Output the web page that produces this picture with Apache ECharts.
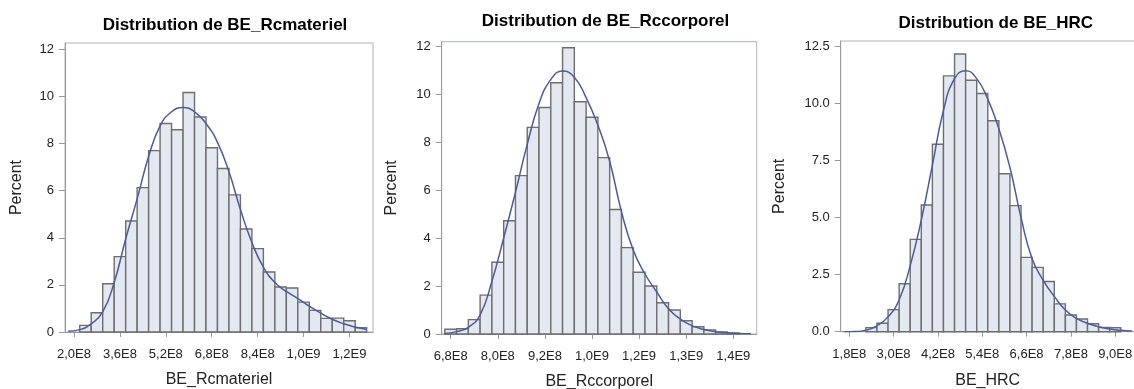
<!DOCTYPE html>
<html>
<head>
<meta charset="utf-8">
<script src="https://cdn.jsdelivr.net/npm/echarts@6/dist/echarts.min.js"></script>
<style>
html,body{margin:0;padding:0;background:#fff;}
#chart{width:1134px;height:389px;}
</style>
</head>
<body>
<div id="chart"></div>
<script>
// ---------- DATA ----------
const titles = ['Distribution de BE_Rcmateriel', 'Distribution de BE_Rccorporel', 'Distribution de BE_HRC'];
const xNames = ['BE_Rcmateriel', 'BE_Rccorporel', 'BE_HRC'];
const yName = 'Percent';

// Panel 1: BE_Rcmateriel (bin width 4E7)
const binWidth1 = 0.4e8;
const mid1 = [2.4e8, 2.8e8, 3.2e8, 3.6e8, 4.0e8, 4.4e8, 4.8e8, 5.2e8, 5.6e8, 6.0e8, 6.4e8, 6.8e8, 7.2e8, 7.6e8, 8.0e8, 8.4e8, 8.8e8, 9.2e8, 9.6e8, 10.0e8, 10.4e8, 10.8e8, 11.2e8, 11.6e8, 12.0e8];
const pct1 = [0.28, 0.82, 2.05, 3.2, 4.71, 6.13, 7.70, 8.85, 8.59, 10.17, 9.13, 7.82, 6.94, 5.82, 4.37, 3.54, 2.55, 1.91, 1.87, 1.27, 0.92, 0.58, 0.59, 0.48, 0.18];
const curveX1 = [1.8e8, 2.2e8, 2.6e8, 3.0e8, 3.4e8, 3.8e8, 4.2e8, 4.6e8, 5.0e8, 5.4e8, 5.8e8, 6.2e8, 6.6e8, 7.0e8, 7.4e8, 7.8e8, 8.2e8, 8.6e8, 9.0e8, 9.4e8, 9.8e8, 10.2e8, 10.6e8, 11.0e8, 11.4e8, 11.8e8, 12.2e8];
const curveY1 = [0.03, 0.10, 0.35, 0.85, 2.1, 3.95, 5.65, 7.45, 8.75, 9.35, 9.53, 9.35, 8.85, 8.05, 6.8, 5.2, 3.8, 2.75, 2.1, 1.72, 1.42, 1.1, 0.8, 0.54, 0.35, 0.21, 0.11];
const xTicks1 = [2.0e8, 3.6e8, 5.2e8, 6.8e8, 8.4e8, 10.0e8, 11.6e8];
const yTicks1 = [0, 2, 4, 6, 8, 10, 12];

// Panel 2: BE_Rccorporel (bin width 3E7)
const binWidth2 = 0.3e8;
const mid2 = [6.8e8, 7.1e8, 7.4e8, 7.7e8, 8.0e8, 8.3e8, 8.6e8, 8.9e8, 9.2e8, 9.5e8, 9.8e8, 10.1e8, 10.4e8, 10.7e8, 11.0e8, 11.3e8, 11.6e8, 11.9e8, 12.2e8, 12.5e8, 12.8e8, 13.1e8, 13.4e8, 13.7e8, 14.0e8];
const pct2 = [0.2, 0.22, 0.6, 1.62, 2.99, 4.72, 6.6, 8.61, 9.44, 10.47, 11.93, 9.68, 9.03, 7.35, 5.19, 3.6, 2.57, 2.0, 1.3, 1.0, 0.55, 0.3, 0.17, 0.09, 0.04];
const curveX2 = [6.65e8, 6.95e8, 7.25e8, 7.55e8, 7.85e8, 8.15e8, 8.45e8, 8.75e8, 9.05e8, 9.35e8, 9.65e8, 9.95e8, 10.25e8, 10.55e8, 10.85e8, 11.15e8, 11.45e8, 11.75e8, 12.05e8, 12.35e8, 12.65e8, 12.95e8, 13.25e8, 13.55e8, 13.85e8, 14.15e8, 14.45e8];
const curveY2 = [0.02, 0.10, 0.28, 0.80, 2.2, 4.0, 5.9, 7.9, 9.6, 10.6, 10.96, 10.7, 9.85, 8.7, 7.2, 5.1, 3.5, 2.5, 1.75, 1.05, 0.62, 0.35, 0.19, 0.09, 0.05, 0.02, 0.01];
const xTicks2 = [6.8e8, 8.0e8, 9.2e8, 10.4e8, 11.6e8, 12.8e8, 14.0e8];
const yTicks2 = [0, 2, 4, 6, 8, 10, 12];

// Panel 3: BE_HRC (bin width 3E7)
const binWidth3 = 0.3e8;
const mid3 = [2.4e8, 2.7e8, 3.0e8, 3.3e8, 3.6e8, 3.9e8, 4.2e8, 4.5e8, 4.8e8, 5.1e8, 5.4e8, 5.7e8, 6.0e8, 6.3e8, 6.6e8, 6.9e8, 7.2e8, 7.5e8, 7.8e8, 8.1e8, 8.4e8, 8.7e8, 9.0e8];
const pct3 = [0.18, 0.37, 0.97, 2.1, 4.05, 5.56, 8.22, 11.22, 12.18, 11.03, 10.45, 9.25, 6.93, 5.53, 3.26, 2.82, 2.2, 1.22, 0.73, 0.56, 0.35, 0.19, 0.17];
const curveX3 = [1.65e8, 1.95e8, 2.25e8, 2.55e8, 2.85e8, 3.15e8, 3.45e8, 3.75e8, 4.05e8, 4.35e8, 4.65e8, 4.95e8, 5.25e8, 5.55e8, 5.85e8, 6.15e8, 6.45e8, 6.75e8, 7.05e8, 7.35e8, 7.65e8, 7.95e8, 8.25e8, 8.55e8, 8.85e8, 9.15e8, 9.45e8];
const curveY3 = [0.00, 0.01, 0.07, 0.26, 0.65, 1.4, 2.9, 4.9, 7.3, 9.7, 11.1, 11.45, 11.1, 10.2, 8.9, 7.2, 5.0, 3.2, 2.25, 1.55, 0.95, 0.58, 0.37, 0.22, 0.12, 0.06, 0.03];
const xTicks3 = [1.8e8, 3.0e8, 4.2e8, 5.4e8, 6.6e8, 7.8e8, 9.0e8];
const yTicks3 = [0, 2.5, 5, 7.5, 10, 12.5];

// ---------- LAYOUT / STYLE ----------
const FONT = 'Liberation Sans, Arial, sans-serif';
const panels = [
  {grid:{left:65, top:43, width:308, height:289}, xMin:1.686e8, xMax:12.42e8, yMax:12.27,
   mids:mid1, pcts:pct1, bw:binWidth1, cx:curveX1, cy:curveY1, xt:xTicks1, yt:yTicks1, ydec:0,
   titleX:220, titleY:12, yGap:40, xGap:40},
  {grid:{left:441.7, top:41.7, width:315, height:292.3}, xMin:6.571e8, xMax:14.596e8, yMax:12.18,
   mids:mid2, pcts:pct2, bw:binWidth2, cx:curveX2, cy:curveY2, xt:xTicks2, yt:yTicks2, ydec:0,
   titleX:600.5, titleY:8, yGap:42, xGap:40},
  {grid:{left:840.7, top:41, width:294, height:290.7}, xMin:1.568e8, xMax:9.527e8, yMax:12.75,
   mids:mid3, pcts:pct3, bw:binWidth3, cx:curveX3, cy:curveY3, xt:xTicks3, yt:yTicks3, ydec:1,
   titleX:990.8, titleY:10, yGap:53, xGap:41}
];

function fmtE(v){
  return v.toExponential(1).replace('.', ',').replace('e+', 'E');
}
function makeRender(bw){
  return function(params, api){
    const x = api.value(0), v = api.value(1);
    const p0 = api.coord([x - bw/2, v]);
    const p1 = api.coord([x + bw/2, 0]);
    return {
      type:'rect',
      shape:{x:p0[0], y:p0[1], width:p1[0]-p0[0], height:p1[1]-p0[1]},
      style:{fill:'#E3E8F1', stroke:'#6E6E6E', lineWidth:1.4}
    };
  };
}

const option = {
  animation:false,
  backgroundColor:'#ffffff',
  textStyle:{fontFamily:FONT},
  title: panels.map((p,i)=>({
    text:titles[i], left:p.titleX, top:p.titleY, textAlign:'center',
    textStyle:{fontFamily:FONT, fontWeight:'bold', fontSize:17, color:'#000'}
  })),
  grid: panels.map(p=>Object.assign({show:true, borderColor:'#AEB2B8', borderWidth:1,
    backgroundColor:'transparent', containLabel:false, outerBoundsMode:'none'}, p.grid)),
  xAxis: panels.map((p,i)=>({
    type:'value', gridIndex:i, min:p.xMin, max:p.xMax,
    name:xNames[i], nameLocation:'middle', nameGap:p.xGap,
    nameTextStyle:{fontFamily:FONT, fontSize:16, color:'#222'},
    splitLine:{show:false},
    axisLine:{show:true, lineStyle:{color:'#9A9A9A', width:1}},
    axisTick:{show:true, customValues:p.xt, length:5, lineStyle:{color:'#9A9A9A'}},
    axisLabel:{customValues:p.xt, formatter:fmtE, fontFamily:FONT, fontSize:13, color:'#222', margin:16}
  })),
  yAxis: panels.map((p,i)=>({
    type:'value', gridIndex:i, min:0, max:p.yMax,
    name:yName, nameLocation:'middle', nameGap:p.yGap, nameRotate:90,
    nameTextStyle:{fontFamily:FONT, fontSize:16, color:'#222'},
    splitLine:{show:false},
    axisLine:{show:true, lineStyle:{color:'#9A9A9A', width:1}},
    axisTick:{show:true, customValues:p.yt, length:6, lineStyle:{color:'#9A9A9A'}},
    axisLabel:{customValues:p.yt, formatter:(v)=>v.toFixed(p.ydec), fontFamily:FONT, fontSize:13, color:'#222', margin:11}
  })),
  series: []
};
panels.forEach((p,i)=>{
  option.series.push({
    type:'custom', xAxisIndex:i, yAxisIndex:i,
    renderItem:makeRender(p.bw), encode:{x:0, y:1},
    data:p.mids.map((m,k)=>[m, p.pcts[k]]), z:2
  });
  option.series.push({
    type:'line', xAxisIndex:i, yAxisIndex:i, smooth:true, showSymbol:false,
    lineStyle:{color:'#4A5C9A', width:1.5}, z:3,
    data:p.cx.map((x,k)=>[x, p.cy[k]])
  });
});

const chart = echarts.init(document.getElementById('chart'), null, {renderer:'canvas'});
chart.setOption(option);
</script>
</body>
</html>
